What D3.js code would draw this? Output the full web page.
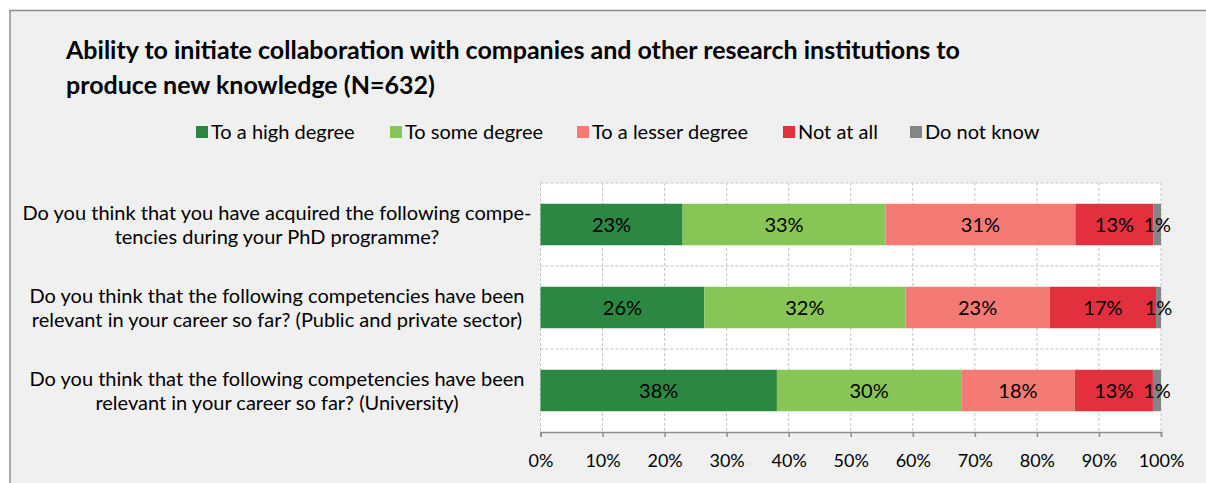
<!DOCTYPE html>
<html>
<head>
<meta charset="utf-8">
<script src="https://cdn.jsdelivr.net/npm/d3@7"></script>
<style>
  body { margin: 0; background: #fff; }
  svg { display: block; font-family: Lato, "Open Sans", sans-serif; }
  .grid line { stroke: #c4c4c4; stroke-dasharray: 3,2; }
</style>
</head>
<body>
<svg id="chart" width="1206" height="483"></svg>
<script>
// data
const categories = [
  ["Do you think that you have acquired the following compe-", "tencies during your PhD programme?"],
  ["Do you think that the following competencies have been", "relevant in your career so far? (Public and private sector)"],
  ["Do you think that the following competencies have been", "relevant in your career so far? (University)"]
];
const seriesNames = ["To a high degree", "To some degree", "To a lesser degree", "Not at all", "Do not know"];
const colors = ["#2b8742", "#87c556", "#f47b73", "#e3303e", "#858588"];
const highDegree = [22.9, 26.4, 38.1];
const someDegree = [32.7, 32.4, 29.7];
const lesserDegree = [30.6, 23.3, 18.3];
const notAtAll = [12.6, 17.1, 12.6];
const doNotKnow = [1.2, 0.8, 1.3];
const ticks = [0, 10, 20, 30, 40, 50, 60, 70, 80, 90, 100];

const series = [highDegree, someDegree, lesserDegree, notAtAll, doNotKnow];
const rows = categories.map((c, i) => {
  let r = {idx: i};
  seriesNames.forEach((s, j) => r[s] = series[j][i]);
  return r;
});

const svg = d3.select("#chart");
const margin = {top: 183, left: 540.5, right: 45, bottom: 51};
const width = 620.5, height = 249;

// frame
svg.append("rect").attr("x", 0).attr("y", 0).attr("width", 1206).attr("height", 483).attr("fill", "#fff");
svg.append("rect").attr("x", 10).attr("y", 10.5).attr("width", 1200).attr("height", 480)
  .attr("fill", "#f0f0f0").attr("stroke", "#8c8c8c").attr("stroke-width", 1.5);

// title
svg.append("text").attr("x", 66).attr("y", 59)
  .attr("font-size", 25).attr("font-weight", "bold").attr("fill", "#000")
  .selectAll("tspan")
  .data(["Ability to initiate collaboration with companies and other research institutions to", "produce new knowledge (N=632)"])
  .join("tspan").attr("x", 66).attr("dy", (d, i) => i ? 35 : 0).text(d => d);

// legend
const legendX = [196, 390, 577, 783, 910];
const legend = svg.append("g").selectAll("g").data(seriesNames).join("g")
  .attr("transform", (d, i) => `translate(${legendX[i]},132)`);
legend.append("rect").attr("x", 0).attr("y", -6).attr("width", 12).attr("height", 12)
  .attr("fill", (d, i) => colors[i]);
legend.append("text").attr("x", 15).attr("y", 0).attr("dy", "0.35em")
  .attr("font-size", 20).attr("fill", "#000").text(d => d);

const chart = svg.append("g").attr("transform", `translate(${margin.left},${margin.top})`);

const x = d3.scaleLinear().domain([0, 100]).range([0, width]);
const y = d3.scaleBand().domain(d3.range(categories.length)).range([0, height])
  .paddingInner(0.5).paddingOuter(0.25);

chart.append("rect").attr("width", width).attr("height", height).attr("fill", "#fff");

// grid
const grid = chart.append("g").attr("class", "grid");
grid.selectAll(".v").data(ticks).join("line").attr("class", "v")
  .attr("x1", d => x(d)).attr("x2", d => x(d)).attr("y1", 0).attr("y2", height);
grid.selectAll(".h").data(d3.range(categories.length)).join("line").attr("class", "h")
  .attr("x1", 0).attr("x2", width)
  .attr("y1", d => y(d) - y.step() * y.paddingOuter())
  .attr("y2", d => y(d) - y.step() * y.paddingOuter());

// bars
const stack = d3.stack().keys(seriesNames)(rows);
const layers = chart.selectAll(".layer").data(stack).join("g").attr("class", "layer")
  .attr("fill", (d, i) => colors[i]);
layers.selectAll("rect").data(d => d).join("rect")
  .attr("x", d => x(d[0])).attr("width", d => x(d[1]) - x(d[0]))
  .attr("y", d => y(d.data.idx)).attr("height", y.bandwidth());
layers.selectAll("text").data(d => d).join("text")
  .attr("x", d => x((d[0] + d[1]) / 2)).attr("y", d => y(d.data.idx) + y.bandwidth() / 2)
  .attr("dy", "0.35em").attr("text-anchor", "middle").attr("font-size", 20).attr("fill", "#000")
  .text(d => Math.round(d[1] - d[0]) + "%");

// x axis
const xAxis = d3.axisBottom(x).tickValues(ticks).tickFormat(d => d + "%").tickSize(5).tickSizeOuter(5).tickPadding(17);
const xAxisG = chart.append("g").attr("transform", `translate(0,${height})`).call(xAxis);
xAxisG.select(".domain").attr("stroke", "#8c8c8c").attr("stroke-width", 1.5);
xAxisG.selectAll(".tick line").attr("stroke", "#8c8c8c").attr("stroke-width", 1.5);
xAxisG.selectAll(".tick text").attr("font-size", 18).attr("fill", "#000").attr("font-family", "Lato, sans-serif");

// category labels (two lines each, centred on the bar)
const catG = svg.append("g");
catG.selectAll("text").data(categories).join("text")
  .attr("text-anchor", "middle").attr("font-size", 20).attr("fill", "#000")
  .each(function(d, i) {
    const cy = margin.top + y(i) + y.bandwidth() / 2;
    d3.select(this).selectAll("tspan").data(d).join("tspan")
      .attr("x", 277).attr("y", (t, j) => cy - 12 + j * 24).attr("dy", "0.35em").text(t => t);
  });
</script>
</body>
</html>
